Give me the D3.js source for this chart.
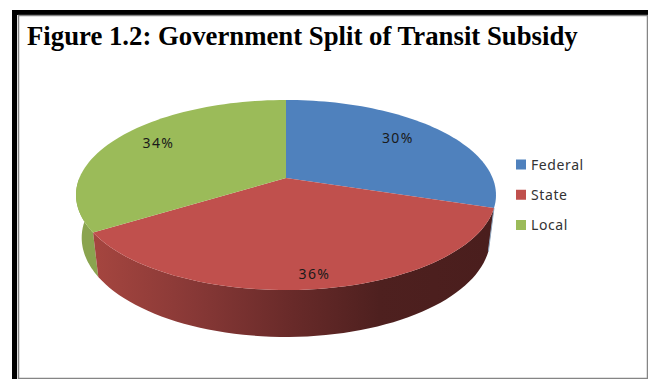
<!DOCTYPE html>
<html>
<head>
<meta charset="utf-8">
<script src="https://cdn.jsdelivr.net/npm/d3@7/dist/d3.min.js"></script>
<style>
html,body{margin:0;padding:0;background:#fff;overflow:hidden}
svg{display:block}
</style>
</head>
<body>
<script>
// Government split of transit subsidy
const titleText = "Figure 1.2: Government Split of Transit Subsidy";
const categories = ["Federal", "State", "Local"];
const shares = [30, 36, 34];
const sliceColors = ["#4f81bd", "#c0504d", "#9bbb59"];

const width = 648, height = 379;
const svg = d3.select("body").append("svg").attr("width", width).attr("height", height);

// Page frame: heavy black rule on top and left, thin grey rule inside it
const frame = svg.append("g");
frame.append("rect").attr("x", 12).attr("y", 10).attr("width", 636).attr("height", 5).attr("fill", "#000");
frame.append("rect").attr("x", 12).attr("y", 10).attr("width", 5).attr("height", 369).attr("fill", "#000");
frame.append("path").attr("d", "M18.5,379V15.5H647.5V378.5H18.5").attr("fill", "none").attr("stroke", "#858585").attr("stroke-width", 1.5);

svg.append("text").attr("x", 27).attr("y", 45)
  .attr("font-family", "'Liberation Serif'").attr("font-weight", 700).attr("font-size", 26.75)
  .attr("fill", "#000").text(titleText);

// Perspective disc: v is toward the back of the disc, u to the right
const cx = 286, tilt = 0.179;
const topRing = {cy: 178, a: 206.6, b: 92};
const baseRing = {cy: 220, a: 201, b: 96};
const project = (ring, angle, reach = 1) => {
  const u = Math.sin(angle) * reach, v = Math.cos(angle) * reach, w = 1 + tilt * v;
  return [cx + ring.a * u / w, ring.cy - ring.b * v / w];
};

const slices = d3.pie().sort(null).value(d => d)(shares);
const color = d3.scaleOrdinal().domain(categories).range(sliceColors);
const line = d3.line();
const arcSamples = (a0, a1) => d3.range(0, 61).map(i => a0 + (a1 - a0) * i / 60);

// Side wall between the top rim and the base rim over an angular range
const wallPath = (a0, a1) => {
  const angles = arcSamples(a0, a1);
  return line(angles.map(a => project(topRing, a)).concat(angles.slice().reverse().map(a => project(baseRing, a)))) + "Z";
};

const defs = svg.append("defs");
const shade = defs.append("linearGradient").attr("id", "stateWall")
  .attr("gradientUnits", "userSpaceOnUse").attr("x1", 98).attr("x2", 489).attr("y1", 0).attr("y2", 0);
[[0, "#a4453f"], [0.25, "#873836"], [0.5, "#682a29"], [0.72, "#4e201f"], [1, "#4a1e1d"]]
  .forEach(([o, c]) => shade.append("stop").attr("offset", o).attr("stop-color", c));

const [federal, state, local] = slices;
svg.append("path").attr("d", wallPath(local.startAngle, 3 * Math.PI / 2)).attr("fill", "#8aa44f");
svg.append("path").attr("d", wallPath(state.startAngle, state.endAngle)).attr("fill", "url(#stateWall)");
svg.append("path").attr("d", line([project(topRing, federal.endAngle), project(baseRing, federal.endAngle)]))
  .attr("fill", "none").attr("stroke", "#8fa6bf").attr("stroke-width", 1);

// Top face
svg.append("g").selectAll("path").data(slices).join("path")
  .attr("fill", (d, i) => color(categories[i]))
  .attr("d", d => line([[cx, topRing.cy], ...arcSamples(d.startAngle, d.endAngle).map(a => project(topRing, a))]) + "Z");

// Percentage labels along each slice's mid-angle
const labelReach = [0.72, 0.92, 0.75];
svg.append("g").selectAll("text").data(slices).join("text")
  .each(function(d, i) {
    const [x, y] = project(topRing, (d.startAngle + d.endAngle) / 2, labelReach[i]);
    d3.select(this).attr("x", x).attr("y", y + 1);
  })
  .attr("text-anchor", "middle")
  .attr("font-family", "'Noto Sans'").attr("font-size", 14).attr("letter-spacing", 1.4)
  .attr("fill", "#1a1a1a").text(d => d.value + "%");

// Legend
const legendY = d3.scalePoint().domain(categories).range([164.5, 225]);
const legend = svg.append("g").selectAll("g").data(categories).join("g")
  .attr("transform", d => `translate(516,${legendY(d)})`);
legend.append("rect").attr("x", 0).attr("y", -5).attr("width", 10).attr("height", 10).attr("fill", d => color(d));
legend.append("text").attr("x", 15).attr("y", 5)
  .attr("font-family", "'Noto Sans'").attr("font-size", 14).attr("letter-spacing", 0.6)
  .attr("fill", "#333").text(d => d);
</script>
</body>
</html>
